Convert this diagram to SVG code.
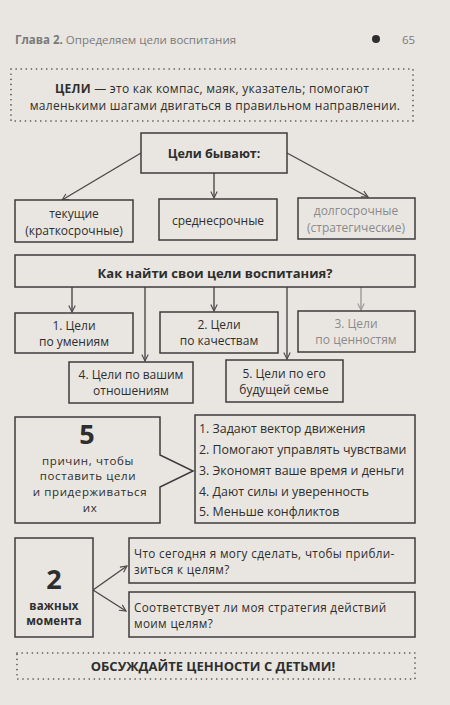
<svg xmlns="http://www.w3.org/2000/svg" width="450" height="705" viewBox="0 0 450 705">
<defs>
<style>
.bg{fill:#e9e6e1}
.box{fill:#e9e6e1;stroke:#3c3c3c;stroke-width:1.5}
.dot{fill:none;stroke:#4a4a4a;stroke-width:1.6;stroke-dasharray:0.1 5;stroke-linecap:round}
.t{font-family:"Open Sans","Liberation Sans",sans-serif;font-size:12px;fill:#2e2e2e}
.c{text-anchor:middle}
.b{font-weight:bold}
.g{fill:#8a8a8a}
.ln{stroke:#4a4a4a;stroke-width:1.4;fill:none}
.lg{stroke:#9a9a9a;stroke-width:1.4;fill:none}
.q{font-size:11.7px;letter-spacing:0.35px}
.s{font-size:11.5px;letter-spacing:0.6px}
.big{font-size:27px;font-weight:bold}
</style>
<marker id="ah" viewBox="0 0 10 10" refX="9" refY="5" markerWidth="8" markerHeight="8" orient="auto" markerUnits="userSpaceOnUse">
<path d="M1,1 L9,5 L1,9" fill="none" stroke="#4a4a4a" stroke-width="1.4"/>
</marker>
<marker id="ahg" viewBox="0 0 10 10" refX="9" refY="5" markerWidth="8" markerHeight="8" orient="auto" markerUnits="userSpaceOnUse">
<path d="M1,1 L9,5 L1,9" fill="none" stroke="#9a9a9a" stroke-width="1.4"/>
</marker>
</defs>
<rect class="bg" x="0" y="0" width="450" height="705"/>

<g id="header">
<text class="t" x="15" y="44" style="font-size:11.5px;fill:#7a7a7a"><tspan class="b">Глава 2.</tspan> Определяем цели воспитания</text>
<circle cx="376" cy="39" r="4" fill="#2e2e2e"/>
<text class="t" x="402" y="44" style="font-size:11.5px;fill:#7a7a7a">65</text>
</g>

<g id="intro">
<rect class="dot" x="11" y="69" width="402" height="52"/>
<text class="t c" x="212" y="93" style="letter-spacing:0.25px"><tspan class="b">ЦЕЛИ</tspan> — это как компас, маяк, указатель; помогают</text>
<text class="t c" x="215" y="109.5" style="letter-spacing:0.27px">маленькими шагами двигаться в правильном направлении.</text>
</g>

<g id="connectors">
<line class="ln" x1="141" y1="153" x2="62" y2="200" marker-end="url(#ah)"/>
<line class="ln" x1="214" y1="173" x2="214" y2="198" marker-end="url(#ah)"/>
<line class="ln" x1="287" y1="153" x2="368" y2="197" marker-end="url(#ah)"/>
<line class="ln" x1="72" y1="287" x2="72" y2="312" marker-end="url(#ah)"/>
<line class="ln" x1="145" y1="287" x2="145" y2="361" marker-end="url(#ah)"/>
<line class="ln" x1="214" y1="287" x2="214" y2="311" marker-end="url(#ah)"/>
<line class="ln" x1="287" y1="287" x2="287" y2="359" marker-end="url(#ah)"/>
<line class="lg" x1="361" y1="287" x2="361" y2="310" marker-end="url(#ahg)"/>
<line class="ln" x1="93" y1="590" x2="127" y2="566" marker-end="url(#ah)"/>
<line class="ln" x1="93" y1="590" x2="126" y2="611" marker-end="url(#ah)"/>
</g>

<g id="types">
<rect class="box" x="141" y="133" width="146" height="40"/>
<text class="t c b" x="214" y="158" style="font-size:12.5px">Цели бывают:</text>
</g>
<g id="short">
<rect class="box" x="15" y="200" width="118" height="42"/>
<text class="t c" x="74" y="218">текущие</text>
<text class="t c" x="74" y="234.5">(краткосрочные)</text>
</g>
<g id="mid">
<rect class="box" x="159" y="199" width="118" height="41"/>
<text class="t c" x="218" y="225">среднесрочные</text>
</g>
<g id="long">
<rect class="box" x="298" y="198" width="117" height="41"/>
<text class="t c g" x="356" y="215">долгосрочные</text>
<text class="t c g" x="356" y="231.5">(стратегические)</text>
</g>

<g id="how">
<rect class="box" x="15" y="255" width="400" height="32"/>
<text class="t c b" x="215" y="278" style="font-size:13px">Как найти свои цели воспитания?</text>
</g>
<g id="g1">
<rect class="box" x="15" y="313" width="118" height="40"/>
<text class="t c" x="74" y="329.5">1. Цели</text>
<text class="t c" x="74" y="346">по умениям</text>
</g>
<g id="g2">
<rect class="box" x="160" y="312" width="118" height="41"/>
<text class="t c" x="219" y="328.5">2. Цели</text>
<text class="t c" x="219" y="345">по качествам</text>
</g>
<g id="g3">
<rect class="box" x="298" y="311" width="117" height="41"/>
<text class="t c g" x="356" y="327.5">3. Цели</text>
<text class="t c g" x="356" y="344">по ценностям</text>
</g>
<g id="g4">
<rect class="box" x="69" y="362" width="124" height="41"/>
<text class="t c" x="131" y="378.5">4. Цели по вашим</text>
<text class="t c" x="131" y="395">отношениям</text>
</g>
<g id="g5">
<rect class="box" x="226" y="360" width="117" height="42"/>
<text class="t c" x="284" y="377.5">5. Цели по его</text>
<text class="t c" x="284" y="394">будущей семье</text>
</g>

<g id="reasons">
<path class="box" d="M15,417 H160 V455 L193,471 L160,487 V523 H15 Z"/>
<text class="t c big" x="87" y="444">5</text>
<text class="t c s" x="88" y="464.5">причин, чтобы</text>
<text class="t c s" x="88" y="480.2">поставить цели</text>
<text class="t c s" x="90" y="495.9">и придерживаться</text>
<text class="t c s" x="90" y="511.6">их</text>
</g>
<g id="reasons-list">
<rect class="box" x="195" y="415" width="220" height="108"/>
<text class="t" x="199" y="433" style="font-size:12.4px">1. Задают вектор движения</text>
<text class="t" x="199" y="454" style="font-size:12.4px">2. Помогают управлять чувствами</text>
<text class="t" x="199" y="475" style="font-size:12.4px">3. Экономят ваше время и деньги</text>
<text class="t" x="199" y="496" style="font-size:12.4px">4. Дают силы и уверенность</text>
<text class="t" x="199" y="516" style="font-size:12.4px">5. Меньше конфликтов</text>
</g>

<g id="moments">
<rect class="box" x="15" y="538" width="78" height="99"/>
<text class="t c big" x="54" y="589">2</text>
<text class="t c b s" x="54" y="609.5" style="letter-spacing:0.2px">важных</text>
<text class="t c b s" x="54" y="625.2" style="letter-spacing:0.2px">момента</text>
</g>
<g id="q1">
<rect class="box" x="129" y="538" width="286" height="45"/>
<text class="t q" x="134" y="557.5">Что сегодня я могу сделать, чтобы прибли-</text>
<text class="t q" x="134" y="573.5">зиться к целям?</text>
</g>
<g id="q2">
<rect class="box" x="129" y="592" width="286" height="45"/>
<text class="t q" x="134" y="611.5">Соответствует ли моя стратегия действий</text>
<text class="t q" x="134" y="627.5">моим целям?</text>
</g>

<g id="footer">
<rect class="dot" x="17" y="653" width="398" height="26"/>
<text class="t c b" x="213" y="671" style="font-size:13px">ОБСУЖДАЙТЕ ЦЕННОСТИ С ДЕТЬМИ!</text>
</g>
</svg>
